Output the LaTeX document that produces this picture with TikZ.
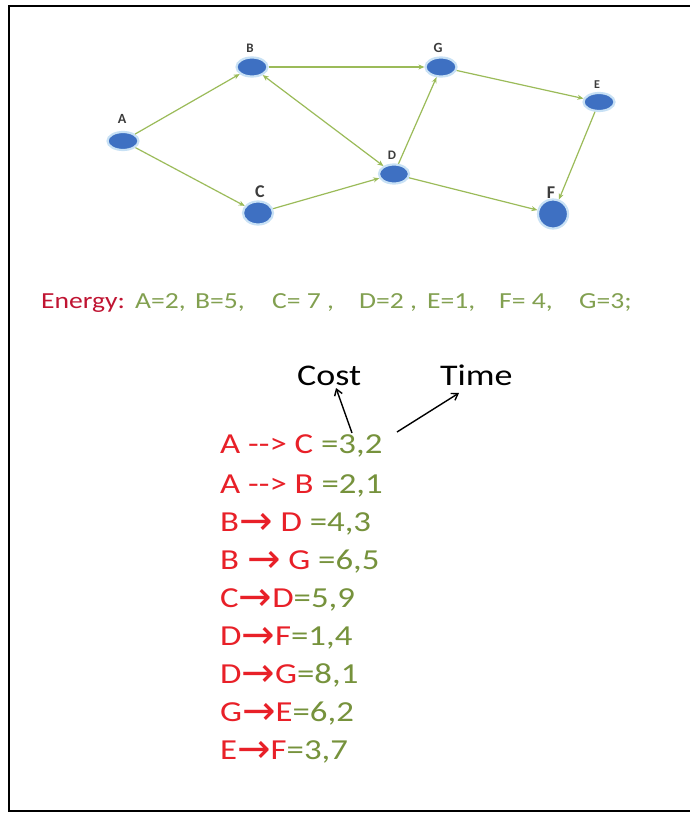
\documentclass[tikz,border=0pt]{standalone}
\usepackage{fontspec}
\setmainfont{Carlito}
\newfontfamily\widefont[FakeStretch=1.2]{Carlito}
\newfontfamily\arrfont{DejaVu Sans}
\usetikzlibrary{arrows.meta,shapes.geometric}
\definecolor{nodeblue}{RGB}{62,112,194}
\definecolor{rimblue}{RGB}{200,225,245}
\definecolor{edgegreen}{RGB}{155,187,89}
\definecolor{enred}{RGB}{192,20,50}
\definecolor{listred}{RGB}{232,32,40}
\definecolor{txtgreen}{RGB}{118,146,60}
\definecolor{engreen}{RGB}{130,160,80}
\definecolor{lblgray}{RGB}{60,60,60}
\tikzset{
  vert/.style={ellipse, fill=nodeblue, draw=rimblue, line width=2.2pt, inner sep=0pt},
  lbl/.style={text=lblgray, inner sep=0pt},
  edge/.style={draw=edgegreen, line width=1.2pt, -{Stealth[length=6pt,width=5pt]}},
  entxt/.style={anchor=base west, inner sep=0pt, font=\widefont\fontsize{23}{26}\selectfont},
  listtxt/.style={anchor=base west, inner sep=0pt, font=\widefont\fontsize{29}{32}\selectfont},
  hdr/.style={anchor=base west, inner sep=0pt, font=\widefont\fontsize{30}{34}\selectfont},
  pointer/.style={draw=black, line width=1.4pt, -{Straight Barb[length=6pt,width=8pt]}}
}
\newcommand{\ra}{\raisebox{-3pt}{\arrfont\fontsize{40}{40}\selectfont →}}
\newcommand{\lblf}[1]{\bfseries\fontsize{#1}{#1}\selectfont}
\begin{document}
\begin{tikzpicture}[x=1pt,y=-1pt]
\useasboundingbox (0,0) rectangle (689,813);
\fill[white] (0,0) rectangle (689,813);
\draw[line width=2pt] (9,6) rectangle (700,811);
% vertices
\node[vert, minimum width=31pt, minimum height=18pt] (A) at (123,141) {};
\node[vert, minimum width=31pt, minimum height=19pt] (B) at (252,67) {};
\node[vert, minimum width=30pt, minimum height=23pt] (C) at (258,213) {};
\node[vert, minimum width=30pt, minimum height=19pt] (D) at (394,174) {};
\node[vert, minimum width=31pt, minimum height=19pt] (G) at (441,67) {};
\node[vert, minimum width=31pt, minimum height=18pt] (E) at (599,102) {};
\node[vert, minimum width=30pt, minimum height=29pt] (F) at (553,214) {};
% labels
\node[lbl, font=\lblf{14}] (lA) at (122,119) {A};
\node[lbl, font=\lblf{13}] (lB) at (250,48) {B};
\node[lbl, font=\lblf{18}] (lC) at (260,192) {C};
\node[lbl, font=\lblf{13}] (lD) at (392,155) {D};
\node[lbl, font=\lblf{14}] (lG) at (438,48) {G};
\node[lbl, font=\lblf{12}] (lE) at (597,85) {E};
\node[lbl, font=\lblf{18}] (lF) at (551,193) {F};
% edges
\draw[edge] (A) -- (B);
\draw[edge] (A) -- (C);
\draw[edge] (B) -- (G);
\draw[edge, {Stealth[length=6pt,width=5pt]}-{Stealth[length=6pt,width=5pt]}] (B) -- (D);
\draw[edge] (C) -- (D);
\draw[edge] (D) -- (G);
\draw[edge] (D) -- (F);
\draw[edge] (G) -- (E);
\draw[edge] (E) -- (F);
% energy line
\node[entxt, text=enred] (en0) at (41,308) {Energy:};
\node[entxt, text=engreen] (en1) at (135,308) {A=2,};
\node[entxt, text=engreen] (en2) at (195,308) {B=5,};
\node[entxt, text=engreen] (en3) at (272,308) {C= 7 ,};
\node[entxt, text=engreen] (en4) at (359,308) {D=2 ,};
\node[entxt, text=engreen] (en5) at (427,308) {E=1,};
\node[entxt, text=engreen] (en6) at (499,308) {F= 4,};
\node[entxt, text=engreen] (en7) at (579,308) {G=3;};
% headers
\node[hdr] (cost) at (297,385) {Cost};
\node[hdr] (time) at (440,385) {Time};
% list
\node[listtxt] (l1) at (220,453) {\textcolor{listred}{A --> C }\textcolor{txtgreen}{=3,2}};
\node[listtxt] (l2) at (220,493) {\textcolor{listred}{A --> B }\textcolor{txtgreen}{=2,1}};
\node[listtxt] (l3) at (220,531) {\textcolor{listred}{B\ra\ D }\textcolor{txtgreen}{=4,3}};
\node[listtxt] (l4) at (220,569) {\textcolor{listred}{B \ra\ G }\textcolor{txtgreen}{=6,5}};
\node[listtxt] (l5) at (220,607) {\textcolor{listred}{C\ra D}\textcolor{txtgreen}{=5,9}};
\node[listtxt] (l6) at (220,645) {\textcolor{listred}{D\ra F}\textcolor{txtgreen}{=1,4}};
\node[listtxt] (l7) at (220,683) {\textcolor{listred}{D\ra G}\textcolor{txtgreen}{=8,1}};
\node[listtxt] (l8) at (220,721) {\textcolor{listred}{G\ra E}\textcolor{txtgreen}{=6,2}};
\node[listtxt] (l9) at (220,759) {\textcolor{listred}{E\ra F}\textcolor{txtgreen}{=3,7}};
% pointers
\coordinate (pc) at (352,433);
\coordinate (pt) at (397,432);
\coordinate (ec) at (336,388);
\coordinate (et) at (459,393);
\draw[pointer] (pc) -- (ec);
\draw[pointer] (pt) -- (et);
\end{tikzpicture}
\end{document}
